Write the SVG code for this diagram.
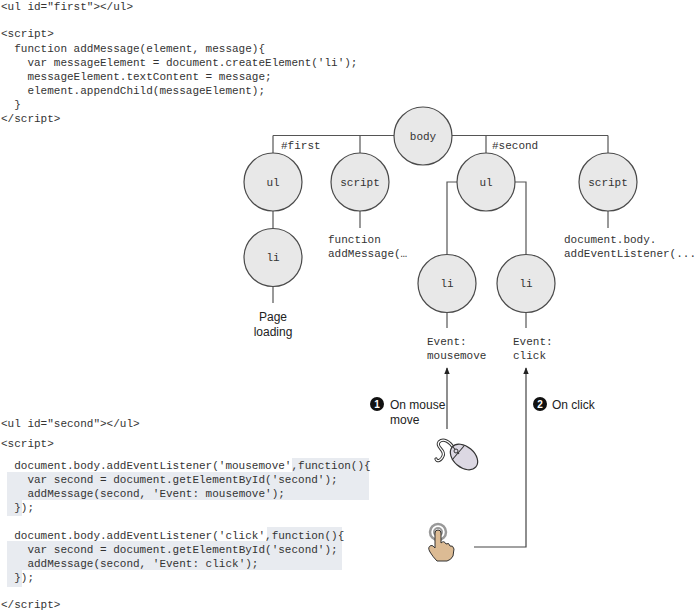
<svg xmlns="http://www.w3.org/2000/svg" width="700" height="611" viewBox="0 0 700 611">
<style>
.code{font-family:"Liberation Mono","Courier New",monospace;font-size:11px;fill:#333}
.lbl{font-family:"Liberation Mono","Courier New",monospace;font-size:11px;fill:#333;text-anchor:middle}
.sans{font-family:"Liberation Sans",Arial,sans-serif;font-size:12px;fill:#222}
.node{fill:#e8e8e8;stroke:#4a4a4a;stroke-width:1.2}
.con{fill:none;stroke:#555;stroke-width:1.2}
.arr{fill:none;stroke:#444;stroke-width:1.2;marker-end:url(#ah)}
.shade{fill:#e8ebf0}
.badge{fill:#111}
.bnum{font-family:"Liberation Sans",Arial,sans-serif;font-size:10px;font-weight:bold;fill:#fff;text-anchor:middle}
</style>
<defs>
<marker id="ah" viewBox="0 0 10 10" refX="9" refY="5" markerWidth="7" markerHeight="7" markerUnits="userSpaceOnUse" orient="auto">
<path d="M0,1 L10,5 L0,9 Z" fill="#222"/>
</marker>
</defs>
<rect width="700" height="611" fill="#fff"/>

<g id="code-top">
<text class="code" x="1" y="10">&lt;ul id="first"&gt;&lt;/ul&gt;</text>
<text class="code" x="1" y="37">&lt;script&gt;</text>
<text class="code" x="14.2" y="52">function addMessage(element, message){</text>
<text class="code" x="27.4" y="66">var messageElement = document.createElement('li');</text>
<text class="code" x="27.4" y="80">messageElement.textContent = message;</text>
<text class="code" x="27.4" y="94">element.appendChild(messageElement);</text>
<text class="code" x="14.2" y="108">}</text>
<text class="code" x="1" y="122">&lt;/script&gt;</text>
</g>

<g id="code-bottom">
<path class="shade" d="M292,458 H369 V500 H22 V516 H7 V472 H292 Z"/>
<path class="shade" d="M267,527 H342 V570 H22 V587 H7 V541 H267 Z"/>
<text class="code" x="1" y="427">&lt;ul id="second"&gt;&lt;/ul&gt;</text>
<text class="code" x="1" y="447">&lt;script&gt;</text>
<text class="code" x="14.2" y="469">document.body.addEventListener('mousemove',function(){</text>
<text class="code" x="27.4" y="483">var second = document.getElementById('second');</text>
<text class="code" x="27.4" y="497">addMessage(second, 'Event: mousemove');</text>
<text class="code" x="14.2" y="511">});</text>
<text class="code" x="14.2" y="539">document.body.addEventListener('click',function(){</text>
<text class="code" x="27.4" y="553">var second = document.getElementById('second');</text>
<text class="code" x="27.4" y="567">addMessage(second, 'Event: click');</text>
<text class="code" x="14.2" y="581">});</text>
<text class="code" x="1" y="608">&lt;/script&gt;</text>
</g>

<g id="connectors">
<path class="con" d="M273,135.5 H608"/>
<path class="con" d="M273,135.5 V153"/>
<path class="con" d="M360,135.5 V153"/>
<path class="con" d="M486,135.5 V153"/>
<path class="con" d="M608,135.5 V153"/>
<path class="con" d="M273,211 V229"/>
<path class="con" d="M273,286 V303"/>
<path class="con" d="M360,211 V228"/>
<path class="con" d="M608,211 V228"/>
<path class="con" d="M457,182 H447 V255"/>
<path class="con" d="M515,182 H526 V255"/>
<path class="con" d="M447,312 V328"/>
<path class="con" d="M526,312 V328"/>
<path class="arr" d="M447,429 V368"/>
<path class="arr" d="M474,547 H526 V368"/>
</g>

<g id="n-body"><circle class="node" cx="423" cy="136" r="29"/><text class="lbl" x="423" y="139.5">body</text></g>
<g id="n-ul-first"><circle class="node" cx="273" cy="182" r="29"/><text class="lbl" x="273" y="185.5">ul</text></g>
<g id="n-script1"><circle class="node" cx="360" cy="182" r="29"/><text class="lbl" x="360" y="185.5">script</text></g>
<g id="n-ul-second"><circle class="node" cx="486" cy="182" r="29"/><text class="lbl" x="486" y="185.5">ul</text></g>
<g id="n-script2"><circle class="node" cx="608" cy="182" r="29"/><text class="lbl" x="608" y="185.5">script</text></g>
<g id="n-li-first"><circle class="node" cx="273" cy="257.5" r="29"/><text class="lbl" x="273" y="261">li</text></g>
<g id="n-li-mouse"><circle class="node" cx="447" cy="283.5" r="29"/><text class="lbl" x="447" y="287">li</text></g>
<g id="n-li-click"><circle class="node" cx="526" cy="283.5" r="29"/><text class="lbl" x="526" y="287">li</text></g>

<g id="labels">
<text class="code" x="281" y="149">#first</text>
<text class="code" x="492" y="149">#second</text>
<text class="sans" x="273" y="321" text-anchor="middle">Page</text>
<text class="sans" x="273" y="336" text-anchor="middle">loading</text>
<text class="code" x="328" y="243">function</text>
<text class="code" x="328" y="257">addMessage(…</text>
<text class="code" x="564" y="243">document.body.</text>
<text class="code" x="564" y="257">addEventListener(...</text>
<text class="code" x="427" y="345">Event:</text>
<text class="code" x="427" y="359">mousemove</text>
<text class="code" x="513" y="345">Event:</text>
<text class="code" x="513" y="359">click</text>
</g>

<g id="step1">
<circle class="badge" cx="377" cy="404" r="7"/>
<text class="bnum" x="377" y="407.5">1</text>
<text class="sans" x="390" y="408.5">On mouse</text>
<text class="sans" x="390" y="424">move</text>
</g>
<g id="step2">
<circle class="badge" cx="540" cy="404" r="7"/>
<text class="bnum" x="540" y="407.5">2</text>
<text class="sans" x="552" y="408.5">On click</text>
</g>

<g id="mouse-icon">
<path d="M454,449 C450,441 443,438 439,442 C435,447 446,450 443,456 C441,461 437,462 436,459" fill="none" stroke="#333" stroke-width="3.2" stroke-linecap="round"/>
<path d="M454,449 C450,441 443,438 439,442 C435,447 446,450 443,456 C441,461 437,462 436,459" fill="none" stroke="#fff" stroke-width="1.3" stroke-linecap="round"/>
<ellipse cx="464" cy="457" rx="15.5" ry="10.5" transform="rotate(40 464 457)" fill="#dcd8e3" stroke="#333" stroke-width="1.2"/>
<path d="M452,460 L464,446" fill="none" stroke="#333" stroke-width="1.1"/>
<path d="M453,447 L459,454" fill="none" stroke="#333" stroke-width="1.1"/>
<circle cx="456" cy="451" r="2" fill="#dcd8e3" stroke="#333" stroke-width="1"/>
</g>

<g id="hand-icon">
<circle cx="438" cy="532" r="8" fill="none" stroke="#999" stroke-width="2.5"/>
<circle cx="438" cy="532" r="4" fill="none" stroke="#999" stroke-width="2"/>
<path d="M435,548 L435,533 A3,3 0 0 1 441,533 L441,543 Q444,540 446,544 Q449,542 450,546 Q453,545 454,549 L453,556 Q451,560 447,561 L437,561 Q433,557 430,552 Q427,547 431,545.5 Q433,545 435,548 Z" fill="#dcbb94" stroke="#333" stroke-width="1"/>
</g>
</svg>
